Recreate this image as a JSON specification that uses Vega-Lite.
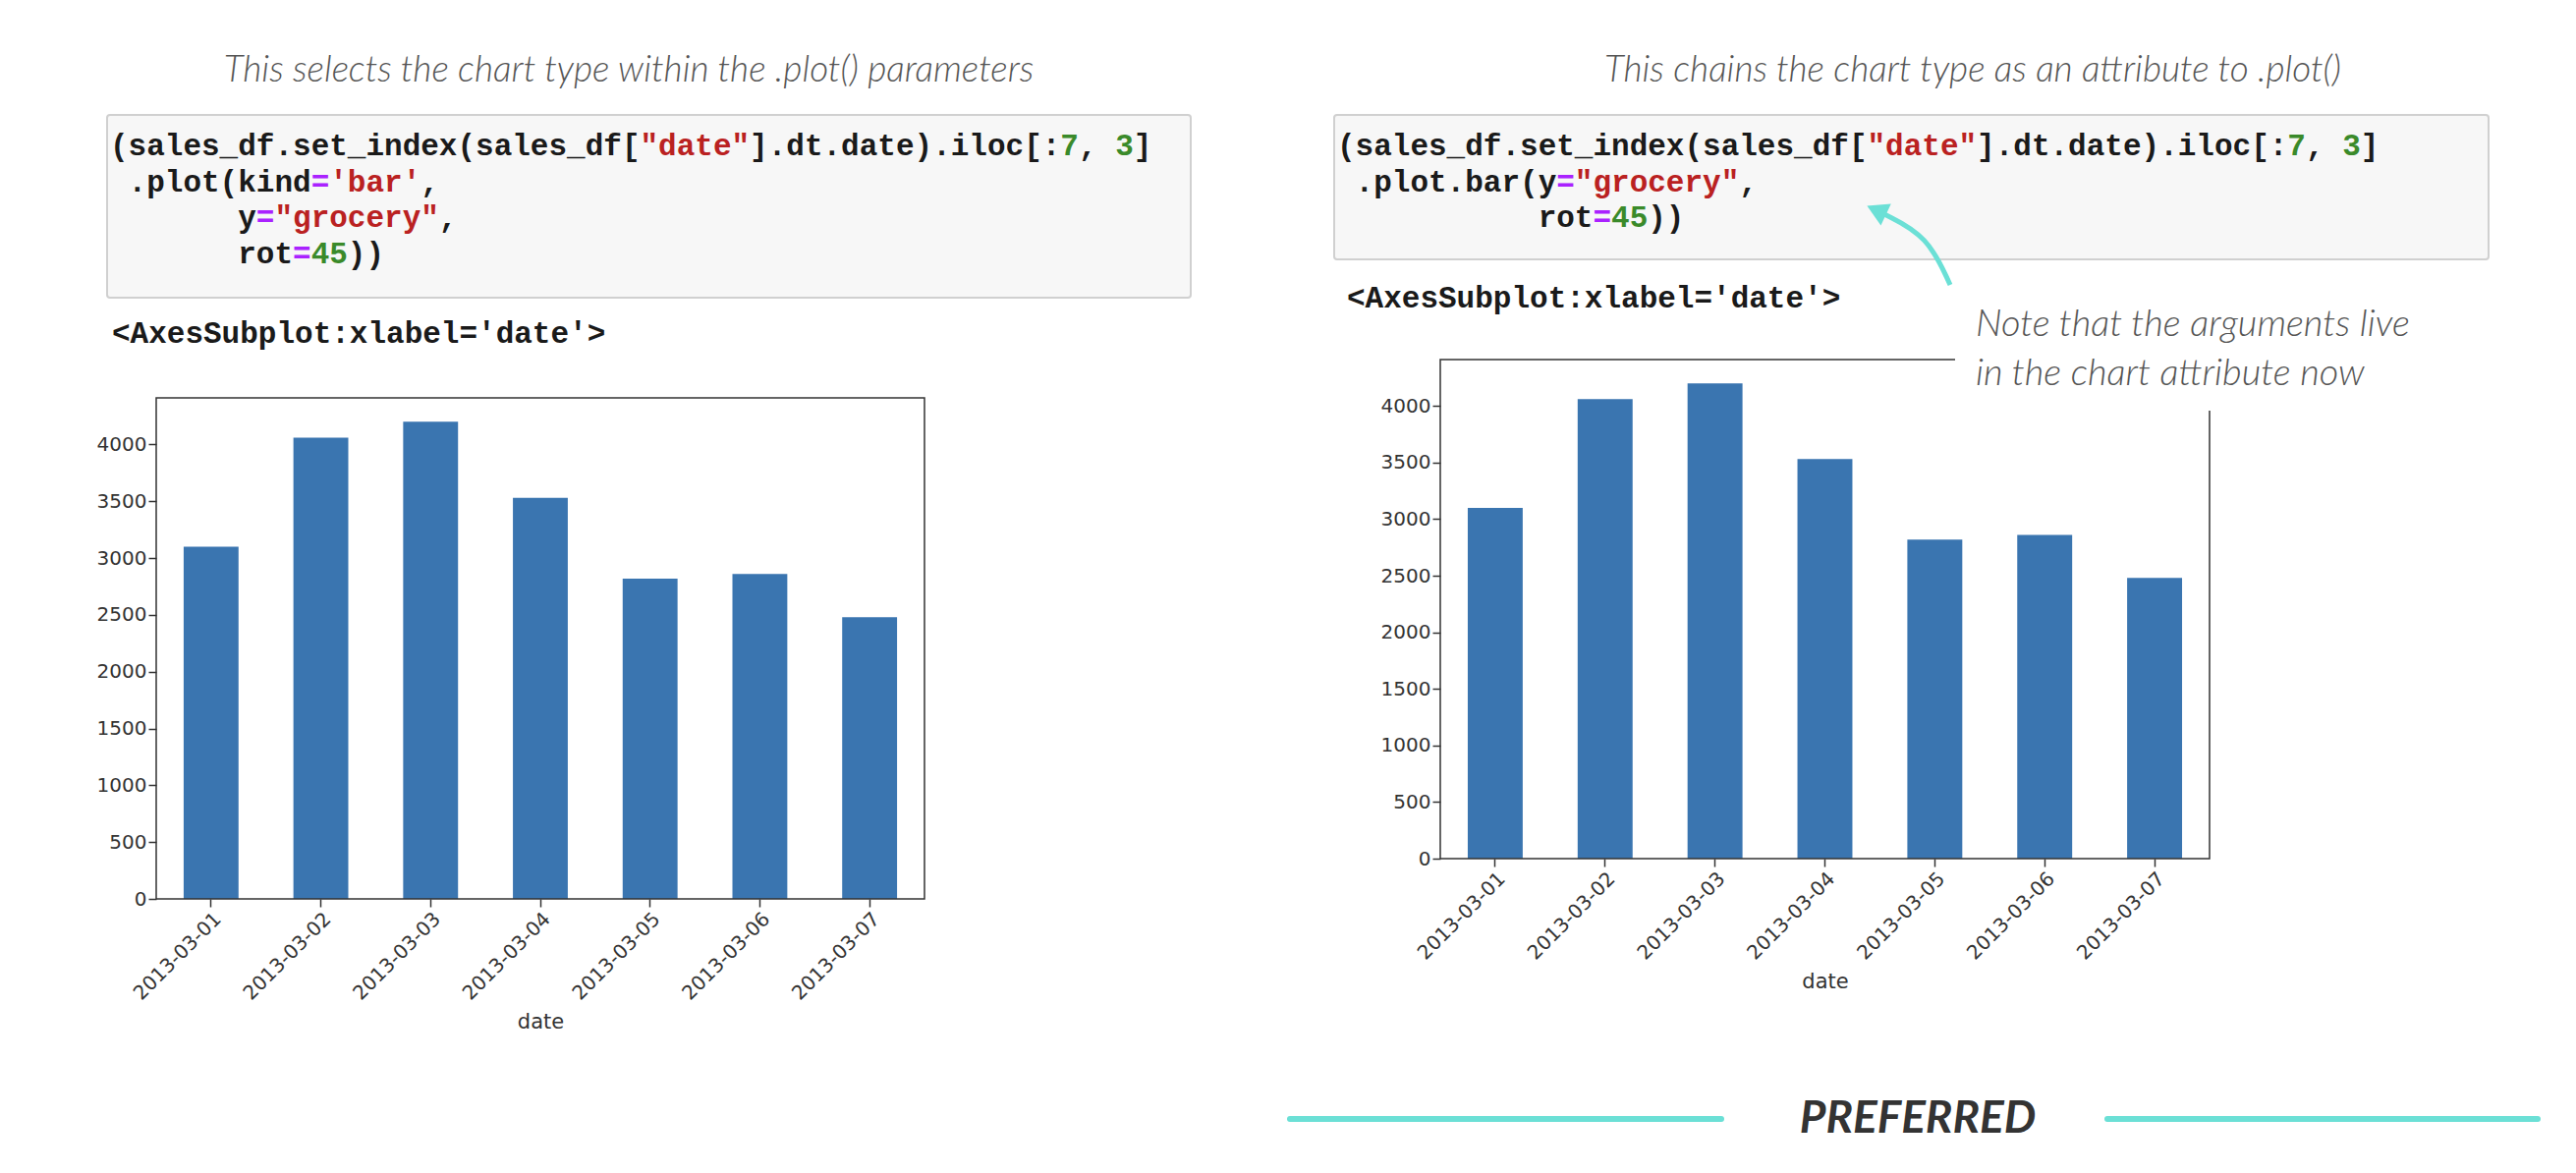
{
  "$schema": "https://vega.github.io/schema/vega-lite/v6.json",
  "width": 2622,
  "height": 1194,
  "autosize": "none",
  "padding": 0,
  "background": "white",
  "config": {
    "view": {"stroke": null},
    "axis": {"labelFont": "DejaVu Sans", "titleFont": "DejaVu Sans", "labelColor": "#333", "titleColor": "#333", "tickColor": "#333", "domain": false, "grid": false, "labelFontSize": 20, "titleFontSize": 21, "tickSize": 8, "tickWidth": 1.5, "titleFontWeight": "normal"}
  },
  "datasets": {
    "bars": [
      {"date": "2013-03-01", "grocery": 3100},
      {"date": "2013-03-02", "grocery": 4060},
      {"date": "2013-03-03", "grocery": 4200},
      {"date": "2013-03-04", "grocery": 3530},
      {"date": "2013-03-05", "grocery": 2820},
      {"date": "2013-03-06", "grocery": 2860},
      {"date": "2013-03-07", "grocery": 2480}
    ],
    "boxes": [
      {"px": 109, "px2": 1212, "py": 117, "py2": 303},
      {"px": 1358, "px2": 2533, "py": 117, "py2": 264}
    ],
    "frames": [
      {"px": 159, "px2": 941, "py": 405, "py2": 915},
      {"px": 1466, "px2": 2249, "py": 366, "py2": 874}
    ],
    "cover": [
      {"px": 1990, "px2": 2262, "py": 280, "py2": 418}
    ],
    "code": [
      {"px": 112, "py": 149, "c": "code", "text": "(sales_df.set_index(sales_df[\u00a0\u00a0\u00a0\u00a0\u00a0\u00a0].dt.date).iloc[:\u00a0,\u00a0\u00a0]"},
      {"px": 112, "py": 149, "c": "str", "text": "\u200b\u00a0\u00a0\u00a0\u00a0\u00a0\u00a0\u00a0\u00a0\u00a0\u00a0\u00a0\u00a0\u00a0\u00a0\u00a0\u00a0\u00a0\u00a0\u00a0\u00a0\u00a0\u00a0\u00a0\u00a0\u00a0\u00a0\u00a0\u00a0\u00a0\"date\""},
      {"px": 112, "py": 149, "c": "num", "text": "\u200b\u00a0\u00a0\u00a0\u00a0\u00a0\u00a0\u00a0\u00a0\u00a0\u00a0\u00a0\u00a0\u00a0\u00a0\u00a0\u00a0\u00a0\u00a0\u00a0\u00a0\u00a0\u00a0\u00a0\u00a0\u00a0\u00a0\u00a0\u00a0\u00a0\u00a0\u00a0\u00a0\u00a0\u00a0\u00a0\u00a0\u00a0\u00a0\u00a0\u00a0\u00a0\u00a0\u00a0\u00a0\u00a0\u00a0\u00a0\u00a0\u00a0\u00a0\u00a0\u00a07\u00a0\u00a03"},
      {"px": 112, "py": 186, "c": "code", "text": "\u200b\u00a0.plot(kind\u00a0\u00a0\u00a0\u00a0\u00a0\u00a0,"},
      {"px": 112, "py": 186, "c": "op", "text": "\u200b\u00a0\u00a0\u00a0\u00a0\u00a0\u00a0\u00a0\u00a0\u00a0\u00a0\u00a0="},
      {"px": 112, "py": 186, "c": "str", "text": "\u200b\u00a0\u00a0\u00a0\u00a0\u00a0\u00a0\u00a0\u00a0\u00a0\u00a0\u00a0\u00a0'bar'"},
      {"px": 112, "py": 222, "c": "code", "text": "\u200b\u00a0\u00a0\u00a0\u00a0\u00a0\u00a0\u00a0y\u00a0\u00a0\u00a0\u00a0\u00a0\u00a0\u00a0\u00a0\u00a0\u00a0,"},
      {"px": 112, "py": 222, "c": "op", "text": "\u200b\u00a0\u00a0\u00a0\u00a0\u00a0\u00a0\u00a0\u00a0="},
      {"px": 112, "py": 222, "c": "str", "text": "\u200b\u00a0\u00a0\u00a0\u00a0\u00a0\u00a0\u00a0\u00a0\u00a0\"grocery\""},
      {"px": 112, "py": 259, "c": "code", "text": "\u200b\u00a0\u00a0\u00a0\u00a0\u00a0\u00a0\u00a0rot\u00a0\u00a0\u00a0))"},
      {"px": 112, "py": 259, "c": "op", "text": "\u200b\u00a0\u00a0\u00a0\u00a0\u00a0\u00a0\u00a0\u00a0\u00a0\u00a0="},
      {"px": 112, "py": 259, "c": "num", "text": "\u200b\u00a0\u00a0\u00a0\u00a0\u00a0\u00a0\u00a0\u00a0\u00a0\u00a0\u00a045"},
      {"px": 1361, "py": 149, "c": "code", "text": "(sales_df.set_index(sales_df[\u00a0\u00a0\u00a0\u00a0\u00a0\u00a0].dt.date).iloc[:\u00a0,\u00a0\u00a0]"},
      {"px": 1361, "py": 149, "c": "str", "text": "\u200b\u00a0\u00a0\u00a0\u00a0\u00a0\u00a0\u00a0\u00a0\u00a0\u00a0\u00a0\u00a0\u00a0\u00a0\u00a0\u00a0\u00a0\u00a0\u00a0\u00a0\u00a0\u00a0\u00a0\u00a0\u00a0\u00a0\u00a0\u00a0\u00a0\"date\""},
      {"px": 1361, "py": 149, "c": "num", "text": "\u200b\u00a0\u00a0\u00a0\u00a0\u00a0\u00a0\u00a0\u00a0\u00a0\u00a0\u00a0\u00a0\u00a0\u00a0\u00a0\u00a0\u00a0\u00a0\u00a0\u00a0\u00a0\u00a0\u00a0\u00a0\u00a0\u00a0\u00a0\u00a0\u00a0\u00a0\u00a0\u00a0\u00a0\u00a0\u00a0\u00a0\u00a0\u00a0\u00a0\u00a0\u00a0\u00a0\u00a0\u00a0\u00a0\u00a0\u00a0\u00a0\u00a0\u00a0\u00a0\u00a07\u00a0\u00a03"},
      {"px": 1361, "py": 186, "c": "code", "text": "\u200b\u00a0.plot.bar(y\u00a0\u00a0\u00a0\u00a0\u00a0\u00a0\u00a0\u00a0\u00a0\u00a0,"},
      {"px": 1361, "py": 186, "c": "op", "text": "\u200b\u00a0\u00a0\u00a0\u00a0\u00a0\u00a0\u00a0\u00a0\u00a0\u00a0\u00a0\u00a0="},
      {"px": 1361, "py": 186, "c": "str", "text": "\u200b\u00a0\u00a0\u00a0\u00a0\u00a0\u00a0\u00a0\u00a0\u00a0\u00a0\u00a0\u00a0\u00a0\"grocery\""},
      {"px": 1361, "py": 222, "c": "code", "text": "\u200b\u00a0\u00a0\u00a0\u00a0\u00a0\u00a0\u00a0\u00a0\u00a0\u00a0\u00a0rot\u00a0\u00a0\u00a0))"},
      {"px": 1361, "py": 222, "c": "op", "text": "\u200b\u00a0\u00a0\u00a0\u00a0\u00a0\u00a0\u00a0\u00a0\u00a0\u00a0\u00a0\u00a0\u00a0\u00a0="},
      {"px": 1361, "py": 222, "c": "num", "text": "\u200b\u00a0\u00a0\u00a0\u00a0\u00a0\u00a0\u00a0\u00a0\u00a0\u00a0\u00a0\u00a0\u00a0\u00a0\u00a045"},
      {"px": 114, "py": 340, "c": "code", "text": "<AxesSubplot:xlabel='date'>"},
      {"px": 1371, "py": 304, "c": "code", "text": "<AxesSubplot:xlabel='date'>"}
    ],
    "titles": [
      {"px": 640, "py": 72, "text": "This selects the chart type within the .plot() parameters"},
      {"px": 2008, "py": 72, "text": "This chains the chart type as an attribute to .plot()"}
    ],
    "note": [
      {"px": 2011, "py": 331, "text": "Note that the arguments live"},
      {"px": 2011, "py": 381, "text": "in the chart attribute now"}
    ],
    "arrow": [
      {"i": 0, "px": 1985, "py": 290},
      {"i": 1, "px": 1962, "py": 240},
      {"i": 2, "px": 1918, "py": 218}
    ],
    "head": [{"px": 1910, "py": 214}],
    "rules": [
      {"px": 1313, "px2": 1752, "py": 1139},
      {"px": 2145, "px2": 2583, "py": 1139}
    ],
    "preferred": [{"px": 1952, "py": 1139, "text": "PREFERRED"}]
  },
  "resolve": {"scale": {"x": "independent", "y": "independent", "color": "independent"}, "axis": {"x": "independent", "y": "independent"}},
  "layer": [
    {
      "data": {"name": "boxes"},
      "mark": {"type": "rect", "fill": "#f7f7f7", "stroke": "#d0d0d0", "strokeWidth": 2, "cornerRadius": 3},
      "encoding": {
        "x": {"field": "px", "type": "quantitative", "scale": {"domain": [0, 2622], "range": [0, 2622]}, "axis": null},
        "x2": {"field": "px2"},
        "y": {"field": "py", "type": "quantitative", "scale": {"domain": [0, 1194], "range": [0, 1194]}, "axis": null},
        "y2": {"field": "py2"}
      }
    },
    {
      "data": {"name": "bars"},
      "mark": {"type": "bar", "color": "#3a75b0"},
      "encoding": {
        "x": {"field": "date", "type": "ordinal", "scale": {"range": [159, 941], "paddingInner": 0.5, "paddingOuter": 0.25},
              "axis": {"orient": "bottom", "offset": -279, "labelAngle": -45, "title": "date", "titlePadding": 8}},
        "y": {"field": "grocery", "type": "quantitative", "scale": {"domain": [0, 4410], "nice": false, "range": [915, 405]},
              "axis": {"orient": "left", "offset": -159, "title": null, "format": "d", "values": [0, 500, 1000, 1500, 2000, 2500, 3000, 3500, 4000]}}
      }
    },
    {
      "data": {"name": "bars"},
      "mark": {"type": "bar", "color": "#3a75b0"},
      "encoding": {
        "x": {"field": "date", "type": "ordinal", "scale": {"range": [1466, 2249], "paddingInner": 0.5, "paddingOuter": 0.25},
              "axis": {"orient": "bottom", "offset": -320, "labelAngle": -45, "title": "date", "titlePadding": 8}},
        "y": {"field": "grocery", "type": "quantitative", "scale": {"domain": [0, 4410], "nice": false, "range": [874, 366]},
              "axis": {"orient": "left", "offset": -1466, "title": null, "format": "d", "values": [0, 500, 1000, 1500, 2000, 2500, 3000, 3500, 4000]}}
      }
    },
    {
      "data": {"name": "frames"},
      "mark": {"type": "rect", "fill": null, "stroke": "#333", "strokeWidth": 1.5},
      "encoding": {
        "x": {"field": "px", "type": "quantitative", "scale": {"domain": [0, 2622], "range": [0, 2622]}, "axis": null},
        "x2": {"field": "px2"},
        "y": {"field": "py", "type": "quantitative", "scale": {"domain": [0, 1194], "range": [0, 1194]}, "axis": null},
        "y2": {"field": "py2"}
      }
    },
    {
      "data": {"name": "cover"},
      "mark": {"type": "rect", "fill": "white"},
      "encoding": {
        "x": {"field": "px", "type": "quantitative", "scale": {"domain": [0, 2622], "range": [0, 2622]}, "axis": null},
        "x2": {"field": "px2"},
        "y": {"field": "py", "type": "quantitative", "scale": {"domain": [0, 1194], "range": [0, 1194]}, "axis": null},
        "y2": {"field": "py2"}
      }
    },
    {
      "data": {"name": "code"},
      "mark": {"type": "text", "font": "Liberation Mono", "fontWeight": "bold", "fontSize": 31, "align": "left", "baseline": "middle"},
      "encoding": {
        "x": {"field": "px", "type": "quantitative", "scale": {"domain": [0, 2622], "range": [0, 2622]}, "axis": null},
        "y": {"field": "py", "type": "quantitative", "scale": {"domain": [0, 1194], "range": [0, 1194]}, "axis": null},
        "text": {"field": "text"},
        "color": {"field": "c", "type": "nominal", "scale": {"domain": ["code", "str", "num", "op"], "range": ["#1a1a1a", "#ba2121", "#3a8a2a", "#aa22ff"]}, "legend": null}
      }
    },
    {
      "data": {"name": "titles"},
      "mark": {"type": "text", "font": "Lato", "fontStyle": "italic", "fontWeight": 300, "fontSize": 37, "color": "#555", "align": "center", "baseline": "middle"},
      "encoding": {
        "x": {"field": "px", "type": "quantitative", "scale": {"domain": [0, 2622], "range": [0, 2622]}, "axis": null},
        "y": {"field": "py", "type": "quantitative", "scale": {"domain": [0, 1194], "range": [0, 1194]}, "axis": null},
        "text": {"field": "text"}
      }
    },
    {
      "data": {"name": "note"},
      "mark": {"type": "text", "font": "Lato", "fontStyle": "italic", "fontWeight": 300, "fontSize": 38, "color": "#555", "align": "left", "baseline": "middle"},
      "encoding": {
        "x": {"field": "px", "type": "quantitative", "scale": {"domain": [0, 2622], "range": [0, 2622]}, "axis": null},
        "y": {"field": "py", "type": "quantitative", "scale": {"domain": [0, 1194], "range": [0, 1194]}, "axis": null},
        "text": {"field": "text"}
      }
    },
    {
      "data": {"name": "arrow"},
      "mark": {"type": "line", "color": "#6be0d6", "strokeWidth": 5, "interpolate": "basis"},
      "encoding": {
        "x": {"field": "px", "type": "quantitative", "scale": {"domain": [0, 2622], "range": [0, 2622]}, "axis": null},
        "y": {"field": "py", "type": "quantitative", "scale": {"domain": [0, 1194], "range": [0, 1194]}, "axis": null},
        "order": {"field": "i"}
      }
    },
    {
      "data": {"name": "head"},
      "mark": {"type": "point", "shape": "triangle-left", "filled": true, "color": "#6be0d6", "opacity": 1, "size": 600, "angle": 25},
      "encoding": {
        "x": {"field": "px", "type": "quantitative", "scale": {"domain": [0, 2622], "range": [0, 2622]}, "axis": null},
        "y": {"field": "py", "type": "quantitative", "scale": {"domain": [0, 1194], "range": [0, 1194]}, "axis": null}
      }
    },
    {
      "data": {"name": "rules"},
      "mark": {"type": "rule", "color": "#6be0d6", "strokeWidth": 6, "strokeCap": "round"},
      "encoding": {
        "x": {"field": "px", "type": "quantitative", "scale": {"domain": [0, 2622], "range": [0, 2622]}, "axis": null},
        "x2": {"field": "px2"},
        "y": {"field": "py", "type": "quantitative", "scale": {"domain": [0, 1194], "range": [0, 1194]}, "axis": null}
      }
    },
    {
      "data": {"name": "preferred"},
      "mark": {"type": "text", "font": "Lato", "fontStyle": "italic", "fontWeight": "bold", "fontSize": 46, "color": "#333", "align": "center", "baseline": "middle"},
      "encoding": {
        "x": {"field": "px", "type": "quantitative", "scale": {"domain": [0, 2622], "range": [0, 2622]}, "axis": null},
        "y": {"field": "py", "type": "quantitative", "scale": {"domain": [0, 1194], "range": [0, 1194]}, "axis": null},
        "text": {"field": "text"}
      }
    }
  ]
}
